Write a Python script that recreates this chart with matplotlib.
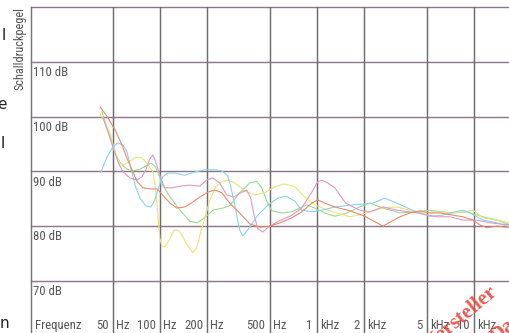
"""Schalldruckpegel-Frequenzgang: five speakers on one log-frequency grid."""

from __future__ import annotations

import matplotlib

matplotlib.use("Agg")
import matplotlib.pyplot as plt
from matplotlib import font_manager

# grid and labels
freq_lines = [50, 100, 200, 500, 1000, 2000, 5000, 10000]
freq_numbers = ["50", "100", "200", "500", "1", "2", "5", "10"]
freq_units = ["Hz", "Hz", "Hz", "Hz", "kHz", "kHz", "kHz", "kHz"]
level_lines = [70, 80, 90, 100, 110, 120]
level_labels = ["70 dB", "80 dB", "90 dB", "100 dB", "110 dB"]

# measured curves (Hz, dB)
red_hz = [41.5, 46.6, 51.7, 57.3, 61.6, 66.3, 71.3, 77.8, 86.2, 95.5, 104, 116,
          128, 144, 162, 179, 202, 223, 248, 278, 322, 373, 432, 503, 582,
          691, 800, 927, 1012, 1122, 1299, 1620, 2019, 2339, 2631, 3003, 3378,
          3913, 4532, 5250, 6081, 7363, 8527, 9876, 10940, 12130, 14050, 17010]
red_db = [101.8, 99.8, 97.6, 94.8, 92.4, 90.3, 88.2, 87.0, 86.8, 86.8, 85.7,
          84.2, 83.3, 83.5, 84.4, 85.3, 86.2, 86.6, 86.1, 84.2, 82.4, 80.4,
          79.8, 80.0, 80.6, 81.5, 82.6, 84.2, 84.8, 84.2, 83.5, 82.8, 81.8,
          80.8, 80.0, 80.9, 81.7, 82.4, 82.8, 82.4, 82.4, 82.0, 81.7, 81.1,
          80.2, 79.7, 80.0, 79.7]

pink_hz = [43.3, 46.6, 50.2, 54.0, 58.1, 64.4, 71.3, 76.7, 81.3, 86.2, 90.1,
           94.1, 99.8, 107, 119, 134, 155, 179, 198, 217, 240, 266, 295, 332,
           357, 379, 396, 420, 452, 489, 563, 691, 800, 927, 1012, 1073, 1172,
           1299, 1527, 1876, 2173, 2631, 3232, 4336, 5818, 7044, 8527, 10470,
           12680, 17010]
pink_db = [99.8, 97.2, 94.5, 91.7, 89.9, 88.8, 88.4, 89.0, 90.3, 92.3, 93.0,
           91.7, 89.3, 87.0, 87.0, 87.3, 87.5, 87.3, 88.4, 88.8, 87.9, 85.7,
           85.3, 86.2, 86.6, 85.1, 82.2, 79.5, 78.9, 79.8, 80.8, 82.0, 83.3,
           86.2, 88.1, 88.4, 87.9, 87.0, 84.2, 82.9, 82.6, 83.5, 82.9, 82.4,
           81.7, 81.7, 81.1, 81.1, 80.6, 80.2]

cyan_hz = [42.1, 45.9, 50.2, 54.0, 58.1, 61.6, 65.3, 69.3, 74.5, 81.3, 87.5,
           92.8, 98.4, 104, 112, 124, 144, 167, 193, 223, 248, 270, 282, 295,
           308, 322, 337, 362, 420, 489, 563, 633, 722, 800, 927, 1073, 1299,
           1505, 1876, 2271, 2709, 3232, 3913, 4532, 5250, 6356, 7580, 8527,
           9448, 11440, 14050, 17010]
cyan_db = [89.9, 92.6, 94.5, 95.2, 94.8, 93.6, 90.6, 87.5, 85.1, 83.7, 83.5,
           84.8, 87.2, 89.0, 89.7, 89.7, 89.3, 89.9, 90.3, 90.3, 90.1, 89.2,
           87.3, 84.8, 82.0, 79.3, 78.2, 79.3, 82.0, 83.9, 85.1, 85.5, 84.6,
           82.9, 82.6, 82.9, 83.5, 83.7, 84.0, 84.2, 85.1, 84.2, 83.1, 82.4,
           81.8, 82.0, 82.6, 82.9, 82.4, 81.1, 80.6, 79.8]

yellow_hz = [41.5, 44.6, 48.0, 50.9, 53.2, 55.6, 59.0, 64.4, 70.3, 76.7, 83.7,
             90.1, 94.1, 96.9, 99.8, 103, 109, 116, 123, 130, 138, 148, 162,
             172, 182, 193, 208, 227, 248, 270, 300, 347, 402, 465, 541, 618,
             722, 837, 969, 1122, 1338, 1620, 2079, 2631, 3232, 3913, 4737,
             5818, 7044, 8527, 9876, 11440, 14050, 17010]
yellow_db = [100.5, 99.0, 97.0, 94.3, 92.6, 91.5, 91.2, 91.9, 92.6, 92.5, 91.2,
             89.9, 86.6, 82.0, 77.8, 76.2, 76.4, 77.8, 79.3, 79.3, 78.4, 76.7,
             75.1, 76.2, 78.9, 81.5, 84.8, 87.2, 88.1, 88.4, 87.9, 86.4, 85.7,
             86.1, 87.2, 87.7, 87.2, 85.3, 83.9, 83.1, 82.4, 81.7, 82.4, 83.3,
             83.5, 82.9, 82.4, 82.6, 82.4, 82.6, 82.9, 81.5, 81.1, 80.6]

green_hz = [42.7, 45.3, 48.0, 50.9, 53.2, 56.4, 61.6, 67.3, 74.5, 81.3, 87.5,
            92.8, 96.9, 103, 116, 134, 155, 172, 193, 217, 251, 278, 322, 373,
            414, 445, 479, 515, 597, 691, 800, 862, 969, 1122, 1299, 1550, 1876,
            2173, 2631, 3378, 4336, 5250, 7044, 9040, 11440, 14050, 17010]
green_db = [100.9, 98.5, 96.3, 93.9, 92.6, 91.4, 90.4, 90.1, 90.4, 91.0, 91.5,
            91.0, 89.9, 87.7, 85.3, 82.9, 80.9, 80.6, 81.5, 82.9, 83.3, 83.7,
            86.1, 87.9, 88.2, 87.0, 84.6, 82.8, 82.4, 82.6, 83.5, 83.9, 83.3,
            82.4, 81.8, 82.4, 83.5, 84.2, 83.3, 82.4, 82.6, 82.9, 82.4, 82.6,
            81.7, 81.1, 80.2]

curves = [
    (green_hz, green_db, "#9ad993"),
    (yellow_hz, yellow_db, "#eee374"),
    (cyan_hz, cyan_db, "#8ad4ea"),
    (pink_hz, pink_db, "#df9ac6"),
    (red_hz, red_db, "#e98a6c"),
]

TEXT_COLOR = "#575757"
H_GRID = "#8f7589"
V_GRID = "#6d6d6d"


def label_font():
    """Narrow face for the scale labels, if one is installed."""
    fonts = font_manager.fontManager.ttflist
    names = {f.name for f in fonts}
    for name in ("Liberation Sans Narrow", "Roboto Condensed", "Open Sans Condensed"):
        if name in names:
            return dict(family=[name, "DejaVu Sans"])
    if any(f.name == "DejaVu Sans" and f.stretch == "condensed" for f in fonts):
        return dict(family=["DejaVu Sans"], stretch="condensed")
    return dict(family=["DejaVu Sans"])


def plot_frequency_response(output_path: str = "out.png"):
    """Level over frequency, log axis from 15 Hz, 60..120 dB."""
    font = label_font()
    fs = 9.2

    fig = plt.figure(figsize=(5.10, 3.33), dpi=100)
    fig.patch.set_facecolor("white")

    ax = fig.add_axes([30.7 / 510, -2.5 / 333, 479.3 / 510, 328.2 / 333])
    ax.set_xscale("log")
    ax.set_xlim(15, 17000)
    ax.set_ylim(60, 120)
    ax.axis("off")

    # grid
    for db in level_lines:
        ax.axhline(db, color=H_GRID, lw=1.0, clip_on=False, zorder=1)
    for f in freq_lines:
        ax.axvline(f, color=V_GRID, lw=1.05, zorder=1)
    ax.axvline(15, color="#6f7686", lw=1.05, clip_on=False, zorder=1)

    for f, db, color in curves:
        ax.plot(f, db, color=color, lw=0.8, solid_joinstyle="round", zorder=2)

    # level labels sit just under each line
    for db, label in zip(level_lines, level_labels):
        ax.annotate(label, xy=(0, db - 1.95), xycoords=("axes fraction", "data"),
                    xytext=(1.7, 0), textcoords="offset points",
                    ha="left", va="center", fontsize=fs, color=TEXT_COLOR, **font)

    # frequency labels: number left of the line, unit right of it
    ax.annotate("Frequenz", xy=(0, 61.9), xycoords=("axes fraction", "data"),
                xytext=(3, 0), textcoords="offset points", ha="left",
                va="center", fontsize=fs, color=TEXT_COLOR, **font)
    for f, num, unit in zip(freq_lines, freq_numbers, freq_units):
        ax.annotate(num, xy=(f, 61.9), xytext=(-3.0, 0), textcoords="offset points",
                    ha="right", va="center", fontsize=fs, color=TEXT_COLOR, **font)
        ax.annotate(unit, xy=(f, 61.9), xytext=(2.2, 0), textcoords="offset points",
                    ha="left", va="center", fontsize=fs, color=TEXT_COLOR, **font)

    fig.text(20 / 510, 1 - 7.5 / 333, "Schalldruckpegel", rotation=90,
             ha="center", va="top", fontsize=8.8, color=TEXT_COLOR, **font)

    # column text running in from the left
    for ch, x, y in [("l", 3.5, 35), ("e", 2.0, 104), ("l", 3.0, 143), ("n", 4.5, 323)]:
        fig.text(x / 510, 1 - y / 333, ch, ha="center", va="center",
                 fontsize=11, color="#222222")

    # red stamp
    stamp = dict(rotation=40, rotation_mode="anchor", va="baseline", fontsize=15,
                 family=["Liberation Serif", "DejaVu Serif"], fontweight="bold",
                 color="#e8483e", alpha=0.9, zorder=5)
    fig.text(498 / 510, 1 - 294 / 333, "Hersteller", ha="right", **stamp)
    fig.text(497 / 510, 1 - 343 / 333, "Daten", ha="left", **stamp)

    if output_path:
        fig.savefig(output_path, dpi=100)
    return fig


if __name__ == "__main__":
    plot_frequency_response("out.png")
